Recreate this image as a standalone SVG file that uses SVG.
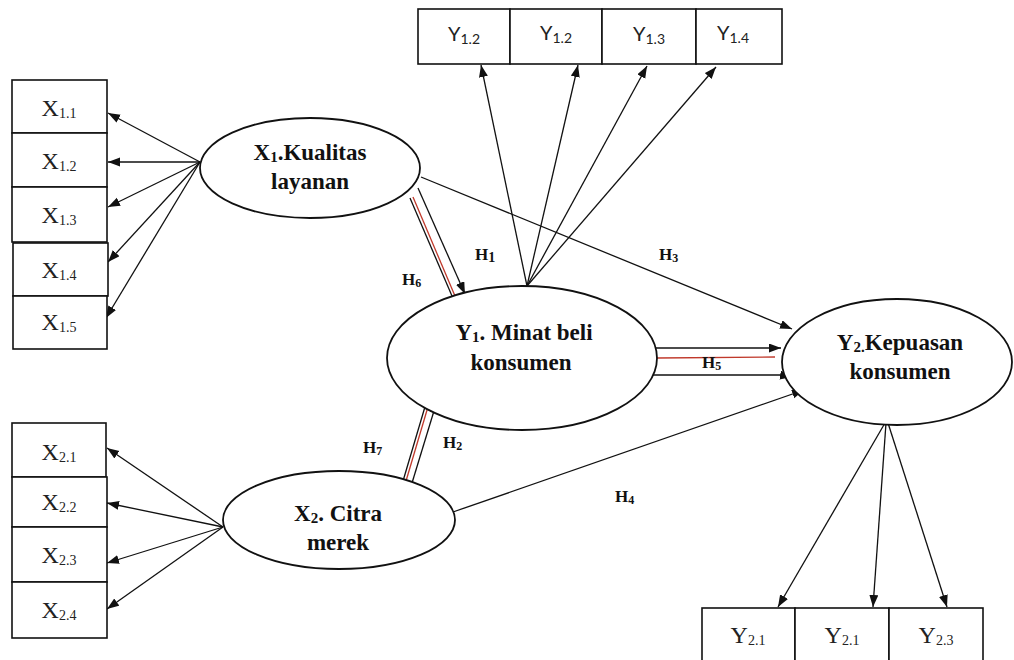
<svg xmlns="http://www.w3.org/2000/svg" width="1014" height="660" viewBox="0 0 1014 660">
<style>
.box{fill:#fff;stroke:#111;stroke-width:1.6}
.ell{fill:#fff;stroke:#111;stroke-width:1.8}
.ind{font-family:"Liberation Serif",serif;font-size:24px;fill:#222;text-anchor:middle}
.ys{font-family:Lato,"Liberation Sans",sans-serif;font-size:20px;fill:#222;text-anchor:middle}
.lat{font-family:"Liberation Serif",serif;font-size:23px;font-weight:bold;fill:#111;text-anchor:middle}
.h{font-family:"Liberation Serif",serif;font-size:17px;font-weight:bold;fill:#111}
.ln{stroke:#111;stroke-width:1.3;fill:none}
.red{stroke:#c0392b;stroke-width:1.3;fill:none}
.sub{font-size:14px}
</style>
<defs>
<marker id="ah" markerUnits="userSpaceOnUse" markerWidth="13" markerHeight="10" refX="12" refY="4.5" orient="auto">
<path d="M0,0 L12,4.5 L0,9 z" fill="#111"/>
</marker>
</defs>
<rect width="1014" height="660" fill="#fff"/>

<g id="connectors">
<line class="ln" x1="200" y1="162" x2="108" y2="113" marker-end="url(#ah)"/>
<line class="ln" x1="200" y1="162" x2="108" y2="162" marker-end="url(#ah)"/>
<line class="ln" x1="200" y1="162" x2="108" y2="207" marker-end="url(#ah)"/>
<line class="ln" x1="200" y1="162" x2="108" y2="262" marker-end="url(#ah)"/>
<line class="ln" x1="200" y1="162" x2="106" y2="318" marker-end="url(#ah)"/>
<line class="ln" x1="223" y1="527" x2="107" y2="448" marker-end="url(#ah)"/>
<line class="ln" x1="223" y1="527" x2="107" y2="503" marker-end="url(#ah)"/>
<line class="ln" x1="223" y1="527" x2="107" y2="563" marker-end="url(#ah)"/>
<line class="ln" x1="223" y1="527" x2="107" y2="609" marker-end="url(#ah)"/>
<line class="ln" x1="527" y1="286" x2="481" y2="65" marker-end="url(#ah)"/>
<line class="ln" x1="527" y1="286" x2="578" y2="65" marker-end="url(#ah)"/>
<line class="ln" x1="527" y1="286" x2="647" y2="66" marker-end="url(#ah)"/>
<line class="ln" x1="527" y1="286" x2="716" y2="67" marker-end="url(#ah)"/>
<line class="ln" x1="885" y1="423" x2="778" y2="607" marker-end="url(#ah)"/>
<line class="ln" x1="886" y1="423" x2="873" y2="607" marker-end="url(#ah)"/>
<line class="ln" x1="888" y1="423" x2="947" y2="607" marker-end="url(#ah)"/>
<line class="ln" x1="421" y1="177" x2="792" y2="329" marker-end="url(#ah)"/>
<line class="ln" x1="418" y1="188" x2="465" y2="294" marker-end="url(#ah)"/>
<line class="ln" x1="410" y1="198" x2="452" y2="296" stroke-width="1"/>
<line class="red" x1="413" y1="197" x2="455" y2="296"/>
<line class="ln" x1="412" y1="483" x2="437" y2="401" marker-end="url(#ah)"/>
<line class="ln" x1="403" y1="481" x2="427" y2="400" stroke-width="1"/>
<line class="red" x1="406" y1="481" x2="430" y2="400"/>
<line class="ln" x1="655" y1="348" x2="781" y2="348" marker-end="url(#ah)"/>
<line class="red" x1="657" y1="358" x2="775" y2="357"/>
<line class="ln" x1="653" y1="375" x2="780" y2="375"/>
<line class="ln" x1="780" y1="375" x2="792" y2="377" marker-end="url(#ah)"/>
<line class="ln" x1="453" y1="512" x2="804" y2="390" marker-end="url(#ah)"/>
</g>

<g id="labels">
<text class="h" x="475" y="260">H<tspan class="sub" font-size="12" dy="2">1</tspan></text>
<text class="h" x="443" y="448">H<tspan font-size="12" dy="2">2</tspan></text>
<text class="h" x="659" y="260">H<tspan font-size="12" dy="2">3</tspan></text>
<text class="h" x="615" y="502">H<tspan font-size="12" dy="2">4</tspan></text>
<text class="h" x="702" y="368">H<tspan font-size="12" dy="2">5</tspan></text>
<text class="h" x="402" y="285">H<tspan font-size="12" dy="2">6</tspan></text>
<text class="h" x="363" y="453">H<tspan font-size="12" dy="2">7</tspan></text>
</g>

<g id="X1">
<ellipse class="ell" cx="310" cy="168" rx="110" ry="50"/>
<text class="lat" x="310" y="160">X<tspan font-size="15" dy="2">1</tspan><tspan dy="-2">.Kualitas</tspan></text>
<text class="lat" x="310" y="189">layanan</text>
</g>

<g id="X1_1"><rect class="box" x="12" y="80" width="95" height="53"/><text class="ind" x="59" y="116">X<tspan class="sub" dy="2">1.1</tspan></text></g>
<g id="X1_2"><rect class="box" x="12" y="133" width="95" height="54"/><text class="ind" x="59" y="169">X<tspan class="sub" dy="2">1.2</tspan></text></g>
<g id="X1_3"><rect class="box" x="12" y="187" width="95" height="55"/><text class="ind" x="59" y="223">X<tspan class="sub" dy="2">1.3</tspan></text></g>
<g id="X1_4"><rect class="box" x="13" y="243" width="95" height="53"/><text class="ind" x="59" y="278">X<tspan class="sub" dy="2">1.4</tspan></text></g>
<g id="X1_5"><rect class="box" x="13" y="296" width="94" height="53"/><text class="ind" x="59" y="330">X<tspan class="sub" dy="2">1.5</tspan></text></g>

<g id="X2">
<ellipse class="ell" cx="339" cy="520" rx="116" ry="49"/>
<text class="lat" x="338" y="521">X<tspan font-size="15" dy="2">2</tspan><tspan dy="-2">. Citra</tspan></text>
<text class="lat" x="338" y="550">merek</text>
</g>

<g id="X2_1"><rect class="box" x="12" y="423" width="94" height="54"/><text class="ind" x="59" y="460">X<tspan class="sub" dy="2">2.1</tspan></text></g>
<g id="X2_2"><rect class="box" x="12" y="477" width="95" height="50"/><text class="ind" x="59" y="510">X<tspan class="sub" dy="2">2.2</tspan></text></g>
<g id="X2_3"><rect class="box" x="12" y="527" width="95" height="55"/><text class="ind" x="59" y="563">X<tspan class="sub" dy="2">2.3</tspan></text></g>
<g id="X2_4"><rect class="box" x="12" y="582" width="95" height="56"/><text class="ind" x="59" y="618">X<tspan class="sub" dy="2">2.4</tspan></text></g>

<g id="Y1">
<ellipse class="ell" cx="522" cy="358" rx="135" ry="72"/>
<text class="lat" x="524" y="340">Y<tspan font-size="15" dy="2">1</tspan><tspan dy="-2">. Minat beli</tspan></text>
<text class="lat" x="521" y="370">konsumen</text>
</g>

<g id="Y1_a"><rect class="box" x="418" y="9" width="92" height="55"/><text class="ys" x="464" y="41">Y<tspan font-size="14" dy="3">1.2</tspan></text></g>
<g id="Y1_b"><rect class="box" x="510" y="9" width="92" height="55"/><text class="ys" x="556" y="40">Y<tspan font-size="14" dy="3">1.2</tspan></text></g>
<g id="Y1_c"><rect class="box" x="602" y="9" width="94" height="55"/><text class="ys" x="649" y="41">Y<tspan font-size="14" dy="3">1.3</tspan></text></g>
<g id="Y1_d"><rect class="box" x="696" y="9" width="86" height="55"/><text class="ys" x="733" y="40">Y<tspan font-size="14" dy="3">1.4</tspan></text></g>

<g id="Y2">
<ellipse class="ell" cx="897" cy="362" rx="115" ry="63"/>
<text class="lat" x="900" y="350">Y<tspan font-size="15" dy="2">2.</tspan><tspan dy="-2">Kepuasan</tspan></text>
<text class="lat" x="900" y="379">konsumen</text>
</g>

<g id="Y2_a"><rect class="box" x="702" y="608" width="93" height="60"/><text class="ind" x="748" y="643">Y<tspan class="sub" dy="2">2.1</tspan></text></g>
<g id="Y2_b"><rect class="box" x="795" y="608" width="94" height="60"/><text class="ind" x="842" y="643">Y<tspan class="sub" dy="2">2.1</tspan></text></g>
<g id="Y2_c"><rect class="box" x="889" y="608" width="94" height="60"/><text class="ind" x="936" y="643">Y<tspan class="sub" dy="2">2.3</tspan></text></g>
</svg>
